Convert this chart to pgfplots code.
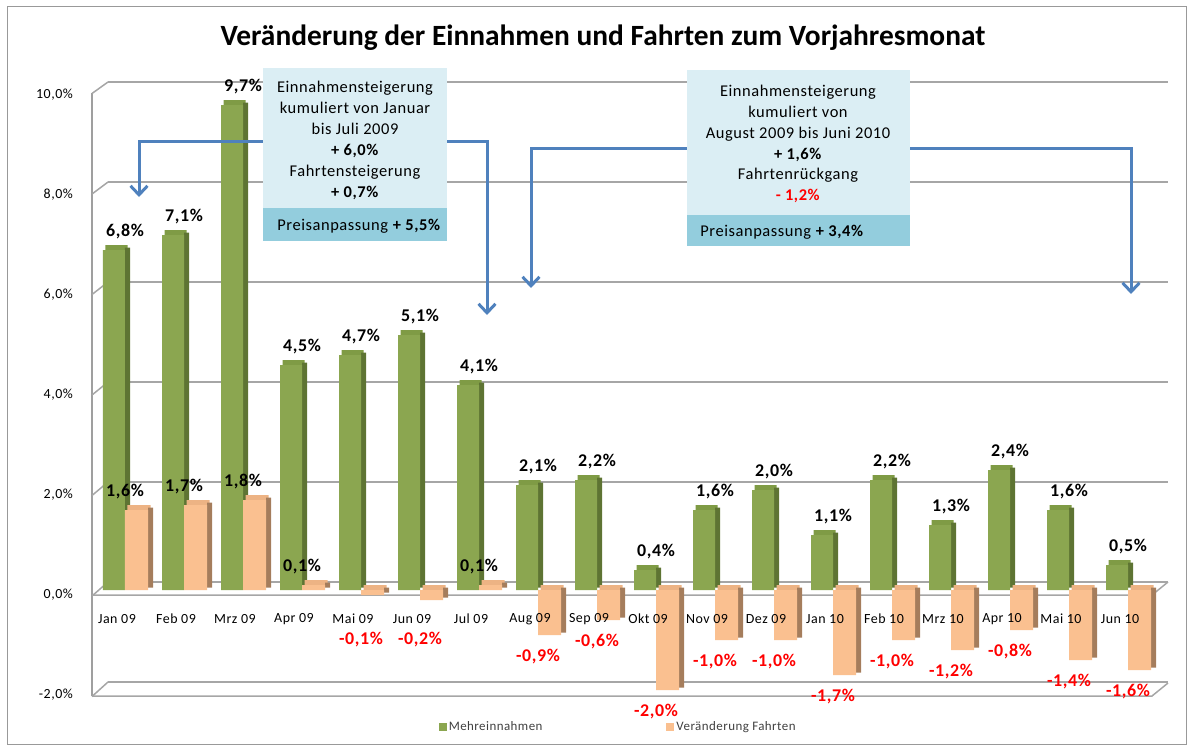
\documentclass[border=0pt]{standalone}
\usepackage{fontspec}
\setmainfont{Carlito}[LetterSpace=3.5]
\newfontfamily\titlefont{Carlito}
\usepackage{pgfplots}
\pgfplotsset{compat=1.18}
\usepackage{pgfplotstable}
\usetikzlibrary{arrows.meta}

\definecolor{gfront}{HTML}{8BA650}
\definecolor{gside}{HTML}{5E7433}
\definecolor{gtop}{HTML}{7F9B45}
\definecolor{ofront}{HTML}{FAC090}
\definecolor{oside}{HTML}{A57D5C}
\definecolor{otop}{HTML}{EDB384}
\definecolor{boxlight}{HTML}{DBEEF4}
\definecolor{boxdark}{HTML}{93CDDD}
\definecolor{arrowblue}{HTML}{4F81BD}
\definecolor{gridgray}{HTML}{A6A6A6}
\definecolor{legtext}{HTML}{404040}
\newcommand\K[1]{#1\%}
\newcommand\R[1]{\textcolor{red}{#1\%}}

\pgfplotstableread{
x g o glab olab ody
0 6.8 1.6 6,8 \K{1,6} 18
1 7.1 1.7 7,1 \K{1,7} 18
2 9.7 1.8 9,7 \K{1,8} 18
3 4.5 0.1 4,5 \K{0,1} 18
4 4.7 -0.1 4,7 \R{-0,1} -45
5 5.1 -0.2 5,1 \R{-0,2} -40
6 4.1 0.1 4,1 \K{0,1} 18
7 2.1 -0.9 2,1 \R{-0,9} -22
8 2.2 -0.6 2,2 \R{-0,6} -22
9 0.4 -2.0 0,4 \R{-2,0} -22
10 1.6 -1.0 1,6 \R{-1,0} -22
11 2.0 -1.0 2,0 \R{-1,0} -22
12 1.1 -1.7 1,1 \R{-1,7} -22
13 2.2 -1.0 2,2 \R{-1,0} -22
14 1.3 -1.2 1,3 \R{-1,2} -22
15 2.4 -0.8 2,4 \R{-0,8} -22
16 1.6 -1.4 1,6 \R{-1,4} -22
17 0.5 -1.6 0,5 \R{-1,6} -22
}\data

\begin{document}
\begin{tikzpicture}
% pixel-coordinate scope: frame, title, 3D wall edges
\begin{scope}[x=1bp,y=-1bp]
  \path[use as bounding box] (0,0) rectangle (1190,747);
  \draw[gray!80, line width=1bp] (7,7) rectangle (1186,744);
  \node[font=\titlefont\fontsize{29.5}{32}\selectfont\bfseries] at (603,38)
    {Veränderung der Einnahmen und Fahrten zum Vorjahresmonat};
  \draw[gray!75, line width=1.3bp] (92,93) -- (92,696);
  \foreach \v in {-2,0,2,4,6,8,10} {
    \draw[gray!70, line width=1.5bp] (92,{596-50.25*\v}) -- (108,{582-50*\v});
  }
  \draw[gray!70, line width=1.5bp] (92,595) -- (1152,595) -- (1168,582);
  \draw[gray!70, line width=1.5bp] (92,696) -- (1152,696) -- (1168,683);
\end{scope}

% back wall gridlines
\begin{axis}[
  at={(108bp,-682bp)}, anchor=south west, scale only axis,
  width=1060bp, height=600bp,
  xmin=0, xmax=1, ymin=-2, ymax=10,
  axis line style={draw=none},
  xtick=\empty, ytick={-2,0,...,10}, yticklabels={},
  major tick length=0pt,
  ymajorgrids, major grid style={gridgray, line width=2.5bp},
]
\addplot[draw=none] coordinates {(0,0)};
\end{axis}

% bars
\begin{axis}[
  at={(92bp,-690bp)}, anchor=south west, scale only axis,
  width=1076bp, height=600bp,
  xmin=-0.5593, xmax=17.678, ymin=-2, ymax=10,
  clip=false, axis on top,
  axis line style={draw=none},
  major tick length=0pt,
  xtick={0,...,17},
  xticklabels={Jan 09,Feb 09,Mrz 09,Apr 09,Mai 09,Jun 09,Jul 09,Aug 09,Sep 09,Okt 09,Nov 09,Dez 09,Jan 10,Feb 10,Mrz 10,Apr 10,Mai 10,Jun 10},
  xticklabel style={font=\fontsize{14}{16}\selectfont, anchor=center, yshift=71bp, xshift=-8bp},
  ytick={-2,0,...,10},
  yticklabels={{-2,0\%},{0,0\%},{2,0\%},{4,0\%},{6,0\%},{8,0\%},{10,0\%}},
  yticklabel style={font=\fontsize{14}{16}\selectfont, anchor=east, inner sep=0pt, xshift=-19bp, yshift=-5bp},
  legend style={at={(0.489,-0.062)}, anchor=center, draw=none, fill=none,
    legend columns=2, font=\fontsize{13}{15}\selectfont, text=legtext,
    /tikz/every even column/.append style={column sep=122bp}},
  legend image code/.code={\fill[#1] (0bp,-4bp) rectangle (8bp,4bp);},
]
% 3D top faces and side faces
\addplot[ybar, forget plot, bar width=22bp, bar shift=-8.5bp, yshift=5bp, fill=gtop, draw=none] table[x=x,y=g]{\data};
\addplot[ybar, forget plot, bar width=5bp, bar shift=2.5bp, yshift=2.5bp, fill=gside, draw=none] table[x=x,y=g]{\data};
\addplot[ybar, forget plot, bar width=23bp, bar shift=14bp, yshift=5bp, fill=otop, draw=none] table[x=x,y=o]{\data};
\addplot[ybar, forget plot, bar width=5bp, bar shift=25.5bp, yshift=2.5bp, fill=oside, draw=none] table[x=x,y=o]{\data};
% front faces
\addplot[ybar, bar width=22bp, bar shift=-11bp, fill=gfront, draw=none,
  point meta=explicit symbolic,
  nodes near coords={\pgfplotspointmeta\%},
  nodes near coords align={anchor=center},
  every node near coord/.append style={anchor=center, yshift=18bp, text=black,
    font=\fontsize{18}{20}\selectfont\bfseries}]
  table[x=x,y=g,meta=glab]{\data};
\addlegendentry{Mehreinnahmen}
\addplot[ybar, bar width=23bp, bar shift=11.5bp, fill=ofront, draw=none,
  point meta=explicit symbolic,
  visualization depends on={\thisrow{ody} \as \labdy},
  nodes near coords={\pgfplotspointmeta},
  nodes near coords align={anchor=center},
  every node near coord/.append style={anchor=center, yshift=\labdy bp, text=black,
    font=\fontsize{18}{20}\selectfont\bfseries}]
  table[x=x,y=o,meta=olab]{\data};
\addlegendentry{Veränderung Fahrten}
\end{axis}

% annotations
\begin{scope}[x=1bp,y=-1bp]
  \tikzset{arr/.style={draw=arrowblue, line width=3bp,
      -{Straight Barb[length=9bp,width=17bp,line width=3bp]}}}
  \draw[arr] (263,141) -- (139,141) -- (139,197);
  \draw[arr] (447,141) -- (487,141) -- (487,315);
  \draw[arr] (687,148) -- (531,148) -- (531,288);
  \draw[arr] (910,148) -- (1131,148) -- (1131,294);
  % box 1
  \fill[boxlight] (263,68) rectangle (447,241);
  \fill[boxdark] (263,208) rectangle (447,241);
  \node[align=center, font=\fontsize{16.5}{21}\selectfont] at (355,140.5)
    {Einnahmensteigerung\\kumuliert von Januar\\bis Juli 2009\\\textbf{+ 6,0\%}\\Fahrtensteigerung\\\textbf{+ 0,7\%}};
  \node[font=\fontsize{16.5}{18}\selectfont] at (359,226) {Preisanpassung \textbf{+ 5,5\%}};
  % box 2
  \fill[boxlight] (687,70) rectangle (910,246);
  \fill[boxdark] (687,215) rectangle (910,246);
  \node[align=center, font=\fontsize{16.5}{21}\selectfont] at (798,144)
    {Einnahmensteigerung\\kumuliert von\\August 2009 bis Juni 2010\\\textbf{+ 1,6\%}\\Fahrtenrückgang\\\textcolor{red}{\textbf{- 1,2\%}}};
  \node[font=\fontsize{16.5}{18}\selectfont] at (782,232) {Preisanpassung \textbf{+ 3,4\%}};
\end{scope}
\end{tikzpicture}
\end{document}
